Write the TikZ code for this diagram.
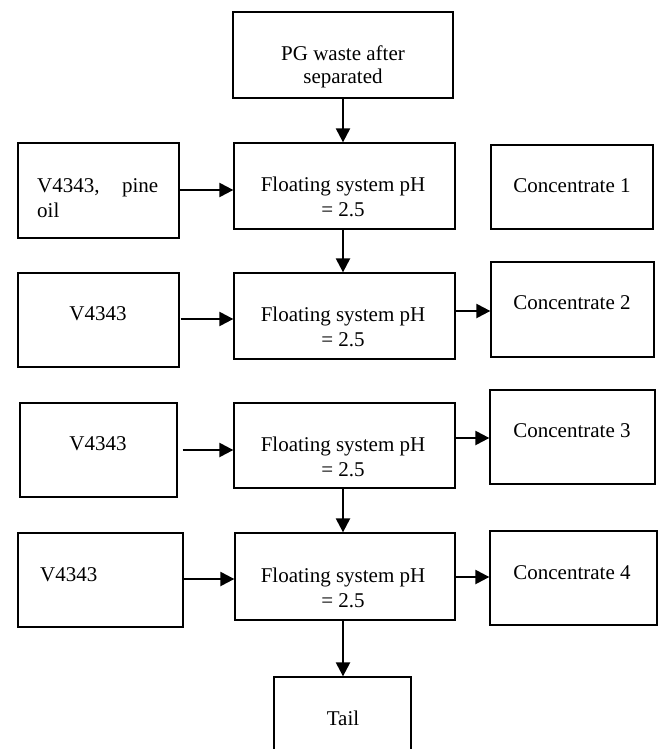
\documentclass[tikz,border=0pt]{standalone}
\usepackage{fontspec}
\setmainfont{Liberation Serif}
\usetikzlibrary{arrows.meta}
\tikzset{
  box/.style={draw=black, line width=1.3pt, inner sep=0pt, fill=none},
  txt/.style={anchor=base, inner sep=0pt, font=\fontsize{21}{23}\selectfont},
  txtl/.style={txt, anchor=base west},
  arr/.style={line width=2.3pt, -{Triangle[length=14pt,width=14pt]}}
}
\newcommand\mybox[5]{\node[box, minimum width={#4-#2}, minimum height={#5-#3}] (#1) at ({(#2+#4)/2},{(#3+#5)/2}) {};}
\begin{document}
\begin{tikzpicture}[x=1pt,y=-1pt]
\useasboundingbox[fill=white] (0,0) rectangle (658,749);
% boxes
\mybox{top}{233}{12}{453}{98}
\mybox{L1}{18}{143}{179}{238}
\mybox{C1}{234}{143}{455}{229}
\mybox{K1}{491}{145}{653}{229}
\mybox{L2}{18}{273}{179}{367}
\mybox{C2}{234}{273}{455}{359}
\mybox{K2}{491}{262}{654}{357}
\mybox{L3}{20}{403}{177}{497}
\mybox{C3}{234}{403}{455}{488}
\mybox{K3}{490}{390}{655}{484}
\mybox{L4}{18}{533}{183}{627}
\mybox{C4}{235}{533}{455}{620}
\mybox{K4}{490}{531}{657}{625}
\mybox{tail}{274}{677}{411}{775}
% texts
\node[txt] (topa) at (343,61) {PG waste after};
\node[txt] (topb) at (343,84) {separated};
\node[txtl] (L1a) at (37,192) {\makebox[121pt][l]{V4343,\hfill pine}};
\node[txtl] (L1b) at (37,217) {oil};
\node[txt] (C1a) at (343,191) {Floating system pH};
\node[txt] (C1b) at (343,216) {= 2.5};
\node[txt] (K1a) at (572,192) {Concentrate 1};
\node[txt] (L2a) at (98,320) {V4343};
\node[txt] (C2a) at (343,321) {Floating system pH};
\node[txt] (C2b) at (343,346) {= 2.5};
\node[txt] (K2a) at (572,309) {Concentrate 2};
\node[txt] (L3a) at (98,450) {V4343};
\node[txt] (C3a) at (343,451) {Floating system pH};
\node[txt] (C3b) at (343,476) {= 2.5};
\node[txt] (K3a) at (572,437) {Concentrate 3};
\node[txtl] (L4a) at (40,581) {V4343};
\node[txt] (C4a) at (343,582) {Floating system pH};
\node[txt] (C4b) at (343,607) {= 2.5};
\node[txt] (K4a) at (572,579) {Concentrate 4};
\node[txt] (taila) at (343,725) {Tail};
% vertical arrows
\draw[arr] (top.south) -- (top.south |- C1.north);
\draw[arr] (C1.south -| top.south) -- (top.south |- C2.north);
\draw[arr] (C3.south -| top.south) -- (top.south |- C4.north);
\draw[arr] (C4.south -| top.south) -- (top.south |- tail.north);
% horizontal arrows
\draw[arr] (L1.east |- 0,190) -- (C1.west |- 0,190);
\draw[arr] ([xshift=1pt]L2.east |- 0,319) -- (C2.west |- 0,319);
\draw[arr] ([xshift=5pt]L3.east |- 0,450) -- (C3.west |- 0,450);
\draw[arr] (L4.east |- 0,579) -- (C4.west |- 0,579);
\draw[arr] (C2.east |- 0,311) -- (K2.west |- 0,311);
\draw[arr] (C3.east |- 0,438) -- (K3.west |- 0,438);
\draw[arr] (C4.east |- 0,577) -- (K4.west |- 0,577);
\end{tikzpicture}
\end{document}
